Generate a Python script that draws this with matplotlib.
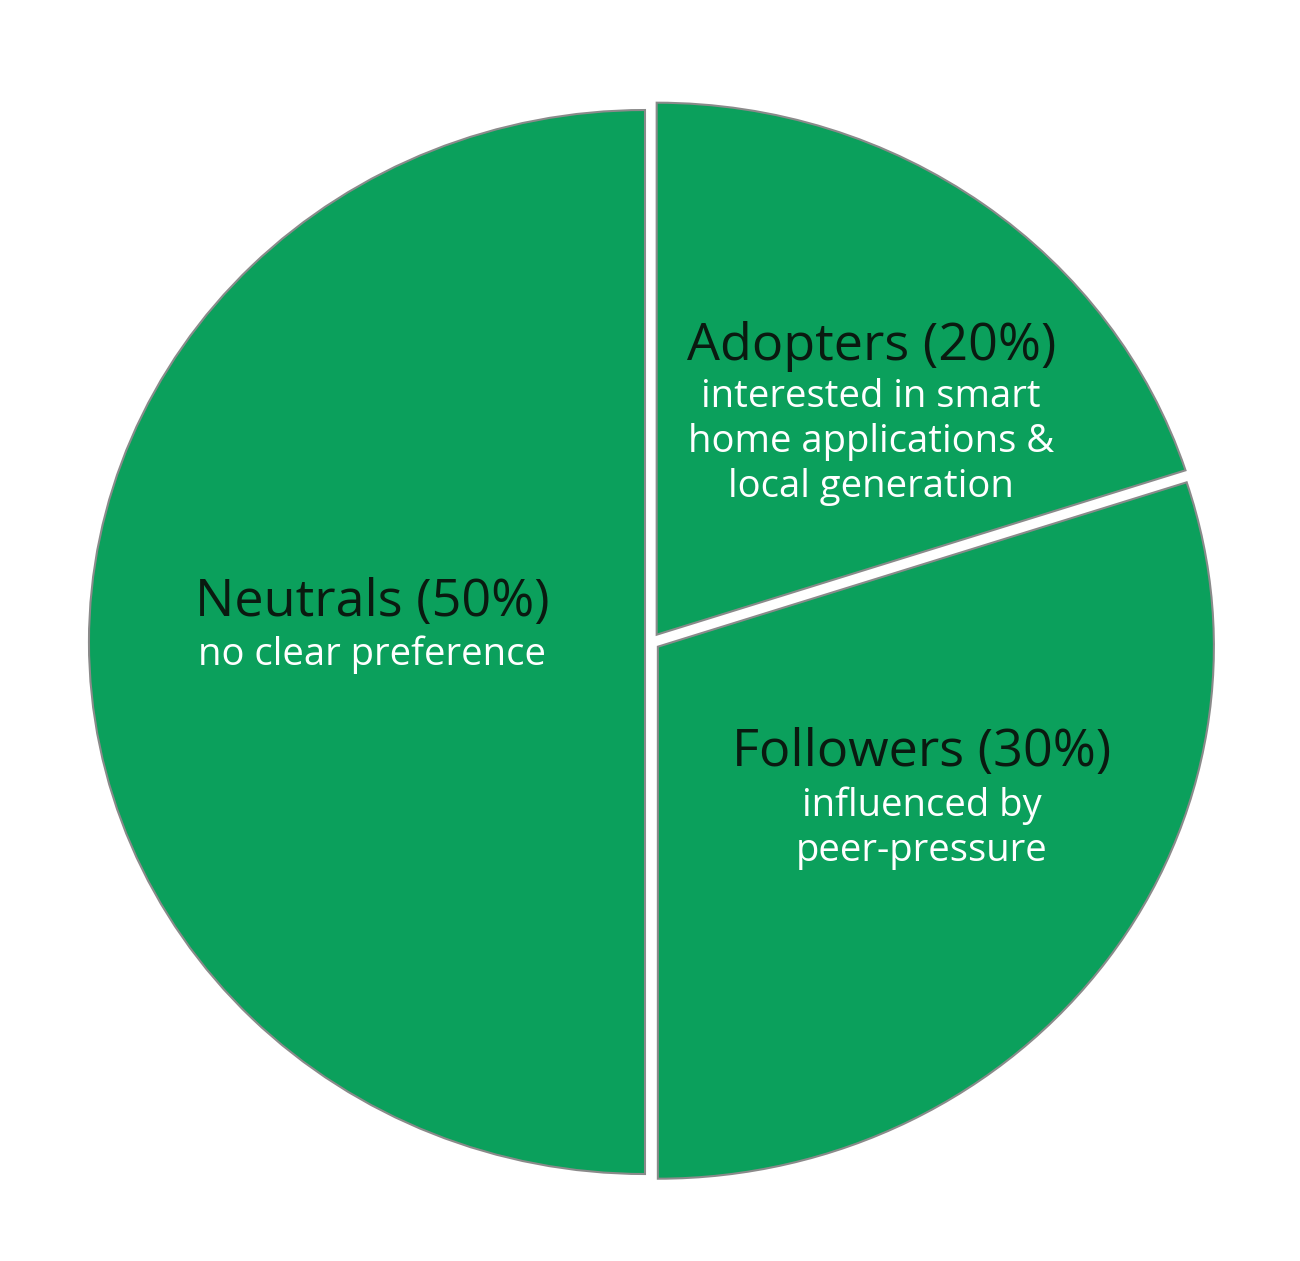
import matplotlib.pyplot as plt

labels = ["Adopters (20%)", "Followers (30%)", "Neutrals (50%)"]
shares = [20, 30, 50]
notes = ["interested in smart\nhome applications &\nlocal generation",
         "influenced by\npeer-pressure",
         "no clear preference"]

green = "#0ba05c"
plt.rcParams['font.family'] = ['Open Sans', 'DejaVu Sans']

fig = plt.figure(figsize=(13, 12.61), dpi=100)
ax = fig.add_axes([0, 0, 1, 1])

ax.pie(shares, startangle=90, counterclock=False, colors=[green] * 3,
       explode=[0.017, 0.015, 0.011],
       wedgeprops=dict(edgecolor="#8a8a8a", linewidth=1.5))
ax.set_aspect('auto')
ax.set_xlim(-1.171, 1.167)
ax.set_ylim(-1.1635, 1.2068)
ax.axis('off')

# label positions (data units)
title_pos = [(0.396, 0.555), (0.486, -0.208), (-0.502, 0.074)]
note_pos = [(0.396, 0.376), (0.486, -0.350), (-0.502, -0.023)]

for lab, note, tp, npos in zip(labels, notes, title_pos, note_pos):
    ax.text(tp[0], tp[1], lab, ha='center', va='center', fontsize=37.5, color='#0a1a10')
    ax.text(npos[0], npos[1], note, ha='center', va='center', fontsize=27.5,
            color='white', linespacing=1.25, multialignment='center')

fig.savefig("out.png", dpi=100, facecolor='white')
